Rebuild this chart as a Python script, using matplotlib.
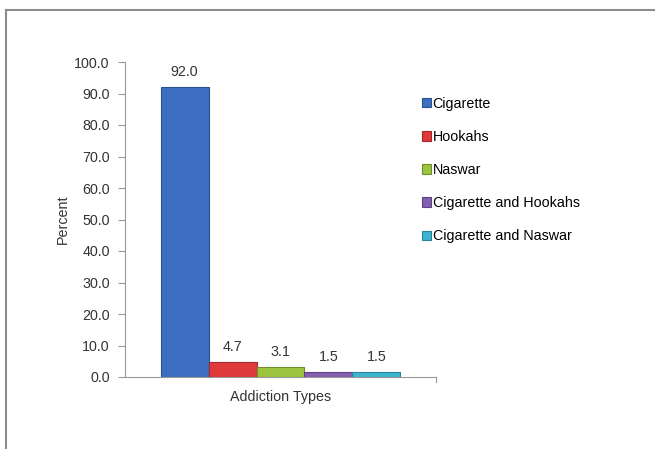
import matplotlib.pyplot as plt
from matplotlib.lines import Line2D
import numpy as np

plt.rcParams["font.family"] = ["Liberation Sans", "DejaVu Sans"]

series = ["Cigarette", "Hookahs", "Naswar", "Cigarette and Hookahs", "Cigarette and Naswar"]
values = [92.0, 4.7, 3.1, 1.5, 1.5]
colors = ["#3C6FC2", "#E0393B", "#9CC43F", "#8460B0", "#3DB4D0"]
edges = ["#2A5192", "#A52628", "#6F8E2A", "#5E4282", "#2A8199"]
yticks = np.arange(0, 101, 10)

fs = 10.3
txt = "#333333"

fig = plt.figure(figsize=(6.55, 4.49), dpi=100, facecolor="white")
ax = fig.add_axes([125 / 655, 1 - 377 / 449, 311 / 655, 315 / 449])

width = 0.1543
offsets = (np.arange(len(series)) - 2) * width
for x, v, c, e, name in zip(offsets, values, colors, edges, series):
    ax.bar(x, v, width=width, color=c, edgecolor=e, linewidth=0.8, label=name)
    ax.annotate(f"{v:.1f}", (x, v), xytext=(0, 6), textcoords="offset points",
                ha="center", va="bottom", fontsize=fs, color=txt)

ax.set_xlim(-0.5, 0.5)
ax.set_ylim(0, 100)
ax.set_yticks(yticks)
ax.set_yticklabels([f"{t:.1f}" for t in yticks], fontsize=fs, color=txt)
ax.set_xticks([])
ax.tick_params(axis="y", length=5, color="#999999", width=0.8, pad=6)
for side in ["top", "right"]:
    ax.spines[side].set_visible(False)
for side in ["left", "bottom"]:
    ax.spines[side].set_color("#999999")
    ax.spines[side].set_linewidth(0.8)
# small tick at the right end of the x axis
ax.plot([0.5, 0.5], [0, -1.6], color="#999999", lw=0.8, clip_on=False)

ax.set_ylabel("Percent", fontsize=fs, color=txt, labelpad=3)
ax.set_xlabel("Addiction Types", fontsize=fs, color=txt, labelpad=9)

ax.legend(loc="upper left", bbox_to_anchor=(422 / 655, 1 - 97 / 449),
          bbox_transform=fig.transFigure, frameon=False, fontsize=fs,
          handlelength=0.6, handleheight=0.6, handletextpad=0.15,
          labelspacing=1.33, borderpad=0, borderaxespad=0)

# outer chart border
fig.add_artist(Line2D([6 / 655, 6 / 655], [0, 1 - 10 / 449], transform=fig.transFigure,
                      color="#8C8C8C", lw=1.5))
fig.add_artist(Line2D([6 / 655, 1], [1 - 10 / 449, 1 - 10 / 449], transform=fig.transFigure,
                      color="#8C8C8C", lw=1.5))

fig.savefig("out.png", dpi=100, facecolor="white")
